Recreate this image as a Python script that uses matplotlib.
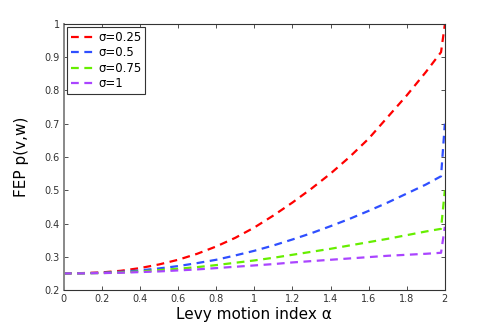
import matplotlib
matplotlib.use('Agg')
import matplotlib.pyplot as plt

alpha = [0, 0.1, 0.2, 0.3, 0.4, 0.5, 0.6, 0.7, 0.8, 0.9, 1.0, 1.1, 1.2, 1.3,
         1.4, 1.5, 1.6, 1.7, 1.8, 1.9, 1.98, 2.0]

fep_025 = [0.250, 0.251, 0.253, 0.258, 0.266, 0.277, 0.291, 0.309, 0.331, 0.357,
           0.388, 0.424, 0.463, 0.505, 0.550, 0.600, 0.655, 0.720, 0.785, 0.855,
           0.915, 0.998]
fep_05 = [0.250, 0.2505, 0.252, 0.255, 0.259, 0.265, 0.272, 0.281, 0.291, 0.304,
          0.318, 0.334, 0.352, 0.371, 0.392, 0.414, 0.438, 0.463, 0.490, 0.517,
          0.542, 0.700]
fep_075 = [0.250, 0.2503, 0.251, 0.253, 0.256, 0.260, 0.264, 0.269, 0.275, 0.282,
           0.289, 0.297, 0.306, 0.315, 0.324, 0.334, 0.344, 0.354, 0.365, 0.376,
           0.384, 0.500]
fep_1 = [0.250, 0.2502, 0.251, 0.252, 0.254, 0.256, 0.259, 0.262, 0.266, 0.270,
         0.274, 0.278, 0.283, 0.287, 0.291, 0.295, 0.299, 0.303, 0.306, 0.309,
         0.312, 0.390]

series = [
    (fep_025, 'σ=0.25', '#ff0000'),
    (fep_05, 'σ=0.5', '#2f4fff'),
    (fep_075, 'σ=0.75', '#66ee00'),
    (fep_1, 'σ=1', '#aa44ff'),
]

fig = plt.figure(figsize=(4.91, 3.27), dpi=100)
ax = fig.add_axes([0.130, 0.113, 0.776, 0.814])

for vals, lab, col in series:
    ax.plot(alpha, vals, linestyle='--', dashes=(3.5, 2.5), color=col, lw=1.6, label=lab)

ax.set_xlim(0, 2)
ax.set_ylim(0.2, 1.0)
ax.set_xticks([0, 0.2, 0.4, 0.6, 0.8, 1, 1.2, 1.4, 1.6, 1.8, 2])
ax.set_xticklabels(['0', '0.2', '0.4', '0.6', '0.8', '1', '1.2', '1.4', '1.6', '1.8', '2'])
ax.set_yticks([0.2, 0.3, 0.4, 0.5, 0.6, 0.7, 0.8, 0.9, 1.0])
ax.set_yticklabels(['0.2', '0.3', '0.4', '0.5', '0.6', '0.7', '0.8', '0.9', '1'])
ax.tick_params(direction='in', top=True, right=True, labelsize=7, length=3,
               width=0.6, pad=3, colors='#333333')

for s in ax.spines.values():
    s.set_color('#333333')
    s.set_linewidth(0.8)
ax.spines['left'].set_color('#888888')
ax.spines['left'].set_linewidth(1.4)

ax.set_xlabel('Levy motion index α', fontsize=11, labelpad=2)
ax.set_ylabel('FEP p(v,w)', fontsize=11, labelpad=11)

leg = ax.legend(loc='upper left', fontsize=8.5, handlelength=2.2, handletextpad=0.1,
                labelspacing=0.2, borderpad=0.3, borderaxespad=0.3,
                fancybox=False, framealpha=1)
leg.get_frame().set_edgecolor('#333333')
leg.get_frame().set_linewidth(0.8)

fig.savefig('out.png', dpi=100)
